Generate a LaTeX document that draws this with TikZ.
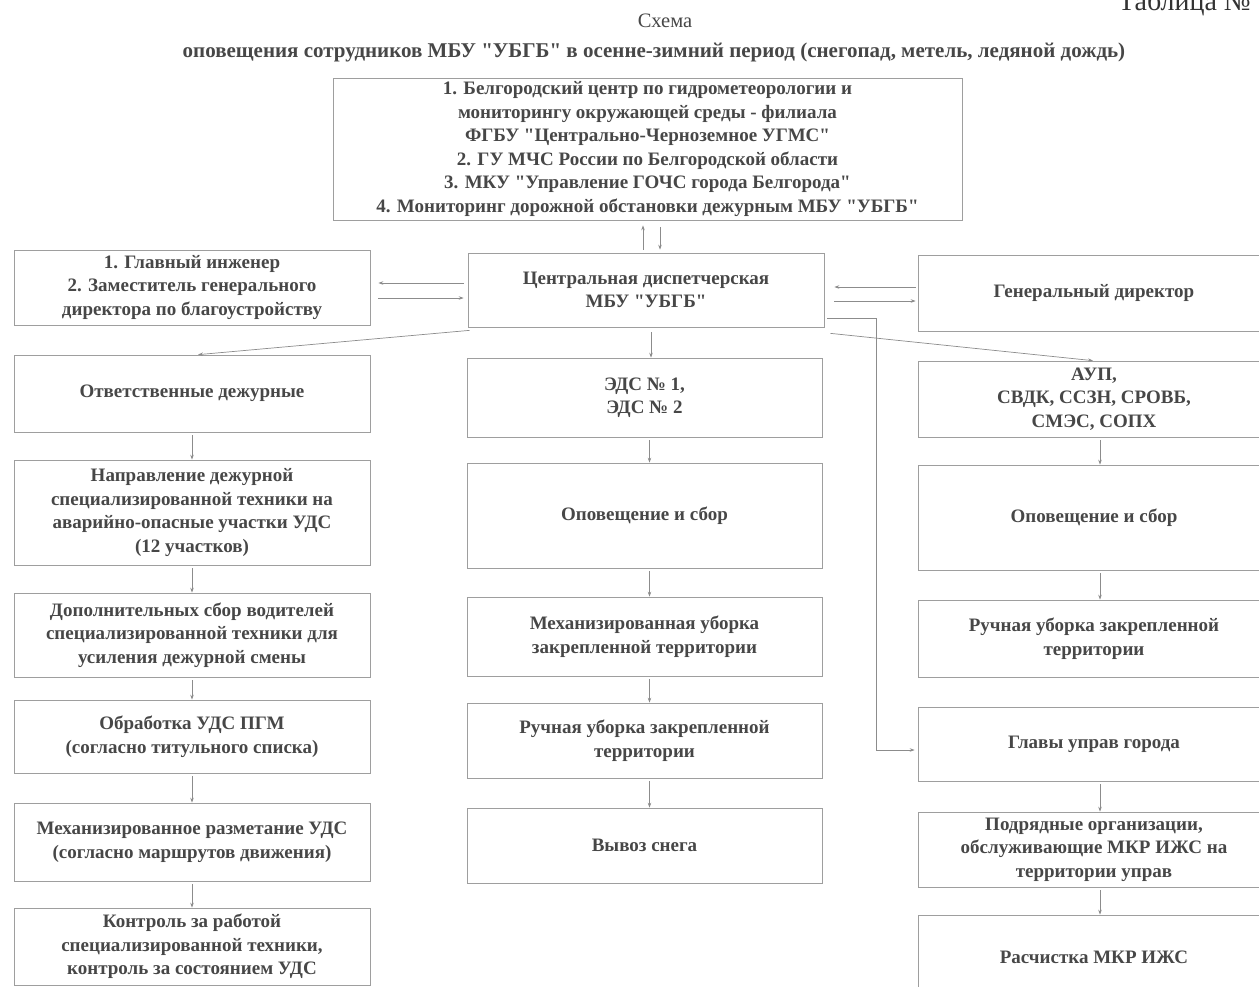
\documentclass[tikz,border=0pt]{standalone}
\usepackage{fontspec}
\setmainfont{Liberation Serif}[Ligatures=TeXOff]
\usetikzlibrary{arrows.meta,calc}
\tikzset{
  box/.style={draw=black!38, line width=0.7pt, inner sep=0pt, align=center,
    text=black!72, font=\bfseries\fontsize{19}{23.5}\selectfont},
  lbox/.style={box, minimum width=356pt},
  mbox/.style={box, minimum width=355pt},
  rbox/.style={box, minimum width=352pt},
  arr/.style={draw=black!45, line width=0.7pt, -{Stealth[length=5pt,width=3.5pt]}},
}
\begin{document}
\begin{tikzpicture}[x=1pt,y=-1pt]
\useasboundingbox[fill=white] (0,0) rectangle (1259,986);

% titles
\node[anchor=base west, text=black!80, inner sep=0pt, font=\fontsize{28}{30}\selectfont] (tab) at (1118,10) {Таблица №};
\node[text=black!72, font=\fontsize{20.5}{22}\selectfont] (sch) at (665,21) {Схема};
\node[text=black!72, font=\bfseries\fontsize{21}{24}\selectfont] (sub) at (654,52)
  {оповещения сотрудников МБУ "УБГБ" в осенне-зимний период (снегопад, метель, ледяной дождь)};

% top & central row
\node[box, minimum width=629pt, minimum height=142pt] (top) at (647.5,149)
  {1. Белгородский центр по гидрометеорологии и\\
   мониторингу окружающей среды - филиала\\
   ФГБУ "Центрально-Черноземное УГМС"\\
   2. ГУ МЧС России по Белгородской области\\
   3. МКУ "Управление ГОЧС города Белгорода"\\
   4. Мониторинг дорожной обстановки дежурным МБУ "УБГБ"};
\node[lbox, minimum height=75pt] (L1) at (192,287.5)
  {1. Главный инженер\\ 2. Заместитель генерального\\ директора по благоустройству};
\node[box, minimum width=356pt, minimum height=74pt] (C) at (646,290)
  {Центральная диспетчерская\\ МБУ "УБГБ"};
\node[rbox, minimum height=76pt] (R1) at (1094,293) {Генеральный директор};

% left column
\node[lbox, minimum height=77pt] (L2) at (192,393.5) {Ответственные дежурные};
\node[lbox, minimum height=105pt] (L3) at (192,512.5)
  {Направление дежурной\\ специализированной техники на\\ аварийно-опасные участки УДС\\ (12 участков)};
\node[lbox, minimum height=84pt] (L4) at (192,635)
  {Дополнительных сбор водителей\\ специализированной техники для\\ усиления дежурной смены};
\node[lbox, minimum height=73pt] (L5) at (192,736.5)
  {Обработка УДС ПГМ\\ (согласно титульного списка)};
\node[lbox, minimum height=78pt] (L6) at (192,842)
  {Механизированное разметание УДС\\ (согласно маршрутов движения)};
\node[lbox, minimum height=77pt] (L7) at (192,946.5)
  {Контроль за работой\\ специализированной техники,\\ контроль за состоянием УДС};

% middle column
\node[mbox, minimum height=79pt] (M1) at (644.5,397.5) {ЭДС № 1,\\ ЭДС № 2};
\node[mbox, minimum height=105pt] (M2) at (644.5,515.5) {Оповещение и сбор};
\node[mbox, minimum height=79pt] (M3) at (644.5,636.5)
  {Механизированная уборка\\ закрепленной территории};
\node[mbox, minimum height=75pt] (M4) at (644.5,740.5)
  {Ручная уборка закрепленной\\ территории};
\node[mbox, minimum height=75pt] (M5) at (644.5,845.5) {Вывоз снега};

% right column
\node[rbox, minimum height=76pt] (R2) at (1094,399) {АУП,\\ СВДК, ССЗН, СРОВБ,\\ СМЭС, СОПХ};
\node[rbox, minimum height=105pt] (R3) at (1094,517.5) {Оповещение и сбор};
\node[rbox, minimum height=77pt] (R4) at (1094,638.5)
  {Ручная уборка закрепленной\\ территории};
\node[rbox, minimum height=74pt] (R5) at (1094,744) {Главы управ города};
\node[rbox, minimum height=75pt] (R6) at (1094,849.5)
  {Подрядные организации,\\ обслуживающие МКР ИЖС на\\ территории управ};
\node[rbox, minimum height=85pt] (R7) at (1094,957.5) {Расчистка МКР ИЖС};

% top <-> central
\draw[arr, shorten <=3pt, shorten >=5pt] ([xshift=-3pt]C.north) -- ([xshift=-3pt]C.north |- top.south);
\draw[arr, shorten <=7pt, shorten >=3pt] ([xshift=14pt]C.north |- top.south) -- ([xshift=14pt]C.north);

% L1 <-> central
\draw[arr, shorten <=4pt, shorten >=8pt] ([yshift=7pt]C.west) -- ([yshift=7pt]C.west -| L1.east);
\draw[arr, shorten <=8pt, shorten >=4pt] ([yshift=-8pt]C.west -| L1.east) -- ([yshift=-8pt]C.west);

% central <-> R1
\draw[arr, shorten <=2pt, shorten >=10pt] ([yshift=3pt]C.east -| R1.west) -- ([yshift=3pt]C.east);
\draw[arr, shorten <=10pt, shorten >=2pt] ([yshift=-11pt]C.east) -- ([yshift=-11pt]C.east -| R1.west);

% central -> Главы управ
\coordinate (p1) at (876,318);
\coordinate (p2) at (876,750);
\draw[arr, shorten >=3pt] ([xshift=3pt]C.east |- p1) -- (p1) -- (p2) -- (R5.west |- p2);

% central -> column heads
\draw[arr] ([xshift=2pt,yshift=-3pt]C.south west) -- ([xshift=6pt]L2.north);
\draw[arr, shorten <=5pt] ([xshift=5pt]C.south) -- ([xshift=5pt]C.south |- M1.north);
\draw[arr] ([xshift=6pt,yshift=-6pt]C.south east) -- ([xshift=-1pt]R2.north);

% left column chain
\foreach \a/\b in {L2/L3,L3/L4,L4/L5,L5/L6,L6/L7}
  \draw[arr, shorten <=3pt] (\a.south) -- (\b.north);

% middle column chain
\foreach \a/\b in {M1/M2,M2/M3,M3/M4,M4/M5}
  \draw[arr, shorten <=3pt] ([xshift=5pt]\a.south) -- ([xshift=5pt]\b.north);

% right column chain
\foreach \a/\b in {R2/R3,R3/R4,R5/R6,R6/R7}
  \draw[arr, shorten <=3pt] ([xshift=6pt]\a.south) -- ([xshift=6pt]\b.north);
\end{tikzpicture}
\end{document}
